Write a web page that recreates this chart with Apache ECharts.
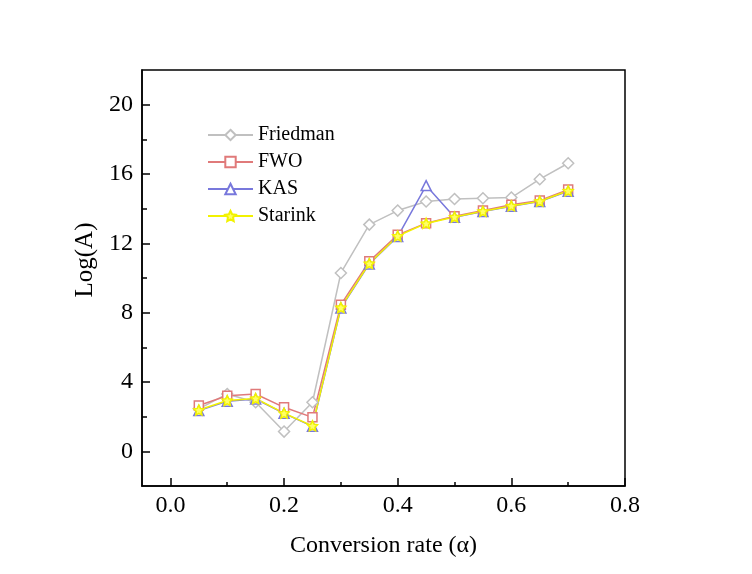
<!DOCTYPE html>
<html>
<head>
<meta charset="utf-8">
<script src="https://cdn.jsdelivr.net/npm/echarts@6/dist/echarts.min.js"></script>
<style>
  html, body { margin: 0; padding: 0; background: #fff; }
  #chart { width: 752px; height: 574px; }
</style>
</head>
<body>
<div id="chart"></div>
<script>
// conversion rate (alpha) values
const alpha = [0.05, 0.10, 0.15, 0.20, 0.25, 0.30, 0.35, 0.40, 0.45, 0.50, 0.55, 0.60, 0.65, 0.70];

const friedman = [2.45, 3.31, 2.83, 1.14, 2.83, 10.29, 13.08, 13.89, 14.41, 14.56, 14.60, 14.64, 15.70, 16.62];
const fwo      = [2.64, 3.21, 3.31, 2.54, 1.96, 8.46, 10.96, 12.49, 13.16, 13.56, 13.89, 14.23, 14.47, 15.10];
const kas      = [2.35, 2.89, 3.02, 2.19, 1.44, 8.27, 10.81, 12.39, 15.33, 13.50, 13.83, 14.14, 14.41, 15.00];
const starink  = [2.38, 2.93, 3.05, 2.20, 1.47, 8.30, 10.84, 12.42, 13.15, 13.52, 13.85, 14.16, 14.43, 15.03];

const xLabels = [0, 0.2, 0.4, 0.6, 0.8];
const xMinor = [0.1, 0.3, 0.5, 0.7];
const yLabels = [0, 4, 8, 12, 16, 20];
const yMinor = [2, 6, 10, 14, 18];

const font = '"Liberation Serif", "Times New Roman", serif';

const chart = echarts.init(document.getElementById('chart'), null, { renderer: 'canvas' });

function pairs(vals) {
    return alpha.map((a, i) => [a, vals[i]]);
}

function makeSeries(name, vals, color, symbol, size, fill) {
    return {
        name: name,
        type: 'line',
        data: pairs(vals),
        symbol: symbol,
        symbolSize: size,
        showAllSymbol: true,
        lineStyle: { color: color, width: 1.5 },
        itemStyle: { color: fill, borderColor: color, borderWidth: 1.5 },
        emphasis: { disabled: true },
        animation: false
    };
}

const tickLine = { color: '#000', width: 1.5 };

const option = {
    backgroundColor: '#fff',
    grid: {
        left: 142, top: 70, right: 127, bottom: 88,
        show: true, borderColor: '#000', borderWidth: 1.5,
        backgroundColor: 'transparent'
    },
    legend: {
        orient: 'vertical',
        left: 202,
        top: 120,
        itemWidth: 45,
        itemHeight: 13,
        itemGap: 7,
        textStyle: { fontFamily: font, fontSize: 20, color: '#000' },
        data: ['Friedman', 'FWO', 'KAS', 'Starink']
    },
    xAxis: [
        {
            type: 'value',
            min: -0.05,
            max: 0.8,
            name: 'Conversion rate (\u03b1)',
            nameLocation: 'middle',
            nameGap: 48,
            nameTextStyle: { fontFamily: font, fontSize: 24, color: '#000' },
            axisLine: { show: true, onZero: false, lineStyle: { color: '#000', width: 1.5 } },
            axisTick: { show: true, inside: true, length: 8, customValues: xLabels, lineStyle: tickLine },
            axisLabel: { customValues: xLabels, formatter: v => v.toFixed(1), fontFamily: font, fontSize: 24, color: '#000', margin: 8 },
            splitLine: { show: false }
        },
        {
            type: 'value',
            position: 'bottom',
            min: -0.05,
            max: 0.8,
            axisLine: { show: false, onZero: false },
            axisTick: { show: true, inside: true, length: 4, customValues: xMinor, lineStyle: tickLine },
            axisLabel: { show: false },
            splitLine: { show: false }
        }
    ],
    yAxis: [
        {
            type: 'value',
            min: -2,
            max: 22,
            name: 'Log(A)',
            nameLocation: 'middle',
            nameGap: 44,
            nameRotate: 90,
            nameTextStyle: { fontFamily: font, fontSize: 25, color: '#000', padding: [0, 0, 0, 36] },
            axisLine: { show: true, onZero: false, lineStyle: { color: '#000', width: 1.5 } },
            axisTick: { show: true, inside: true, length: 8, customValues: yLabels, lineStyle: tickLine },
            axisLabel: { customValues: yLabels, fontFamily: font, fontSize: 24, color: '#000', margin: 9 },
            splitLine: { show: false }
        },
        {
            type: 'value',
            position: 'left',
            min: -2,
            max: 22,
            axisLine: { show: false, onZero: false },
            axisTick: { show: true, inside: true, length: 5, customValues: yMinor, lineStyle: tickLine },
            axisLabel: { show: false },
            splitLine: { show: false }
        }
    ],
    series: [
        makeSeries('Friedman', friedman, '#c0c0c0', 'diamond', 11, '#fff'),
        makeSeries('FWO', fwo, '#e07a7a', 'rect', 9, '#fff'),
        makeSeries('KAS', kas, '#7878dc', 'triangle', 10, '#fff'),
        makeSeries('Starink', starink, '#f2f200', 'path://M0,-10 L2.9,-4 L9.5,-3.1 L4.7,1.5 L5.9,8.1 L0,5 L-5.9,8.1 L-4.7,1.5 L-9.5,-3.1 L-2.9,-4 Z', 10, '#ffff66')
    ]
};

chart.setOption(option);
window.addEventListener('resize', chart.resize);
</script>
</body>
</html>
